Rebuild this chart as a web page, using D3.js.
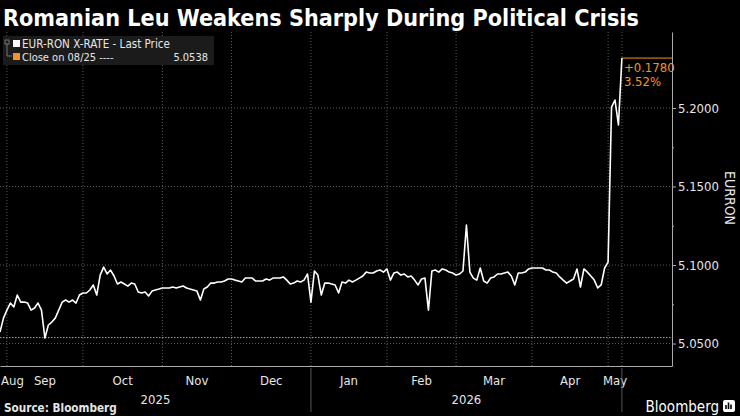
<!DOCTYPE html>
<html>
<head>
<meta charset="utf-8">
<script src="https://cdn.jsdelivr.net/npm/d3@7"></script>
<style>
  body { margin: 0; background: #000; }
  svg { display: block; }
  text { font-family: "DejaVu Sans Condensed", "DejaVu Sans", sans-serif; }
</style>
</head>
<body>
<div id="chart"></div>
<script>
// Donnees
const title = "Romanian Leu Weakens Sharply During Political Crisis";
const seriesName = "EUR-RON X-RATE - Last Price";
const closeLabel = "Close on 08/25 ----";
const closeValue = 5.0538;
const startDate = "2025-08-28"; // premier jour ouvre affiche
// un cours par jour ouvre a partir de startDate
const eurRon = [
  5.0573,5.0662,5.0713,5.0758,5.0733,5.0809,5.0764,5.0764,5.0758,5.0713,
  5.0726,5.0758,5.0713,5.0535,5.0618,5.0637,5.0662,5.0713,5.0764,5.0777,
  5.0764,5.0777,5.0758,5.0809,5.0822,5.0822,5.0841,5.0873,5.0809,5.0936,
  5.0987,5.0943,5.0968,5.0930,5.0879,5.0892,5.0879,5.0866,5.0885,5.0879,
  5.0828,5.0822,5.0828,5.0803,5.0834,5.0841,5.0847,5.0854,5.0854,5.0854,
  5.0860,5.0854,5.0860,5.0866,5.0854,5.0847,5.0841,5.0834,5.0777,5.0847,
  5.0860,5.0885,5.0885,5.0892,5.0892,5.0898,5.0911,5.0911,5.0904,5.0898,
  5.0892,5.0917,5.0917,5.0917,5.0898,5.0898,5.0898,5.0911,5.0904,5.0917,
  5.0917,5.0917,5.0924,5.0904,5.0879,5.0885,5.0898,5.0892,5.0904,5.0943,
  5.0764,5.0962,5.0936,5.0809,5.0885,5.0885,5.0879,5.0873,5.0822,5.0892,
  5.0885,5.0904,5.0892,5.0904,5.0917,5.0930,5.0955,5.0949,5.0949,5.0962,
  5.0968,5.0955,5.0975,5.0904,5.0949,5.0955,5.0936,5.0943,5.0924,5.0930,
  5.0904,5.0873,5.0911,5.0917,5.0713,5.0962,5.0968,5.0955,5.0975,5.0968,
  5.0955,5.0949,5.0936,5.0943,5.0962,5.1255,5.0955,5.0917,5.0904,5.0981,
  5.0898,5.0885,5.0917,5.0924,5.0943,5.0943,5.0949,5.0955,5.0930,5.0873,
  5.0949,5.0949,5.0955,5.0975,5.0981,5.0981,5.0981,5.0981,5.0968,5.0968,
  5.0955,5.0949,5.0924,5.0904,5.0885,5.0898,5.0911,5.0975,5.0860,5.0975,
  5.0955,5.0930,5.0904,5.0854,5.0873,5.0981,5.1019,5.2006,5.2051,5.1892,
  5.2318
];
const yDomain = [5.0357, 5.2484];
const yTicks = [5.05, 5.10, 5.15, 5.20];
const yMinorTicks = [5.075, 5.125, 5.175, 5.225];
const yAxisLabel = "EURRON";
const monthLabels = ["Aug", "Sep", "Oct", "Nov", "Dec", "Jan", "Feb", "Mar", "Apr", "May"];
const monthStarts = ["2025-08-01", "2025-09-01", "2025-10-01", "2025-11-01", "2025-12-01",
                     "2026-01-01", "2026-02-01", "2026-03-01", "2026-04-01", "2026-05-01"];
const yearLabels = ["2025", "2026"];
const yearStarts = ["2025-01-01", "2026-01-01"];

// Dimensions
const width = 740, height = 416;
const plot = {left: 0, top: 32, right: 672, bottom: 366};
const xPadDays = 14.5;
const orange = "#f39325";

const svg = d3.select("#chart")
    .append("svg")
    .attr("width", width)
    .attr("height", height)
    .style("background", "#000");

// position en jours ouvres depuis startDate
const parse = d3.timeParse("%Y-%m-%d");
const start = parse(startDate);
function tradingPos(str) {
    const d = parse(str);
    let n = 0;
    for (let t = new Date(start); t < d; t.setDate(t.getDate() + 1)) {
        const wd = t.getDay();
        if (wd !== 0 && wd !== 6) n++;
    }
    return n;
}

const lastIdx = eurRon.length - 1;
const x = d3.scaleLinear()
    .domain([0, lastIdx + xPadDays])
    .range([plot.left, plot.right]);
const y = d3.scaleLinear()
    .domain(yDomain)
    .range([plot.bottom, plot.top]);

// Titre
svg.append("text")
    .attr("x", 3).attr("y", 26)
    .attr("fill", "#fff")
    .attr("font-weight", "bold")
    .attr("font-size", 22)
    .text(title)
    .call(fitWidth, 636);

// Grille
const monthPos = monthStarts.map(tradingPos);
svg.append("g")
    .selectAll("line")
    .data(yTicks)
    .join("line")
    .attr("x1", plot.left).attr("x2", plot.right)
    .attr("y1", d => y(d)).attr("y2", d => y(d))
    .attr("stroke", "#5a5a5a")
    .attr("stroke-dasharray", "1,2");
svg.append("g")
    .selectAll("line")
    .data(monthPos.slice(1).concat([lastIdx]))
    .join("line")
    .attr("x1", d => x(d)).attr("x2", d => x(d))
    .attr("y1", plot.top).attr("y2", plot.bottom)
    .attr("stroke", "#5a5a5a")
    .attr("stroke-dasharray", "1,2");

// Ligne de cloture
svg.append("line")
    .attr("x1", plot.left).attr("x2", plot.right)
    .attr("y1", y(closeValue)).attr("y2", y(closeValue))
    .attr("stroke", orange)
    .attr("stroke-width", 1)
    .attr("stroke-dasharray", "1.5,1.5");

// Courbe
svg.append("path")
    .datum(eurRon)
    .attr("fill", "none")
    .attr("stroke", "#fff")
    .attr("stroke-width", 1.6)
    .attr("stroke-linejoin", "round")
    .attr("d", d3.line()
        .x((d, i) => x(i))
        .y(d => y(d)));

// Annotation variation
const last = eurRon[lastIdx];
const change = last - closeValue;
svg.append("line")
    .attr("x1", x(lastIdx)).attr("x2", plot.right)
    .attr("y1", y(last)).attr("y2", y(last))
    .attr("stroke", orange);
svg.append("text")
    .attr("x", x(lastIdx) + 2).attr("y", y(last) + 14)
    .attr("fill", orange).attr("font-size", 13)
    .text((change >= 0 ? "+" : "") + change.toFixed(4));
svg.append("text")
    .attr("x", x(lastIdx) + 2).attr("y", y(last) + 28)
    .attr("fill", orange).attr("font-size", 13)
    .text((change / closeValue * 100).toFixed(2) + "%");

// Axe Y a droite
const yAxis = svg.append("g")
    .attr("transform", `translate(${plot.right},0)`)
    .call(d3.axisRight(y).tickValues(yTicks).tickFormat(d3.format(".4f")).tickSize(4).tickSizeOuter(0));
yAxis.select(".domain").attr("stroke", "#aaa");
yAxis.selectAll(".tick line").attr("stroke", "#aaa");
yAxis.selectAll(".tick text")
    .attr("fill", "#e6e6e6")
    .attr("font-size", 13)
    .attr("font-family", null)
    .attr("x", 6);
const yMinor = svg.append("g")
    .attr("transform", `translate(${plot.right},0)`)
    .call(d3.axisRight(y).tickValues(yMinorTicks).tickFormat("").tickSize(2).tickSizeOuter(0));
yMinor.select(".domain").remove();
yMinor.selectAll(".tick line").attr("stroke", "#aaa");

svg.append("text")
    .attr("transform", `translate(725,${(plot.top + plot.bottom) / 2 - 1}) rotate(90)`)
    .attr("text-anchor", "middle")
    .attr("fill", "#e6e6e6")
    .attr("font-size", 14)
    .text(yAxisLabel);

// Axe X
const xAxis = svg.append("g")
    .attr("transform", `translate(0,${plot.bottom})`)
    .call(d3.axisBottom(x).tickValues([]).tickSizeOuter(0));
xAxis.select(".domain").attr("stroke", "#aaa");

const monthEnds = monthPos.slice(1).concat([lastIdx]);
svg.append("g")
    .selectAll("text")
    .data(monthLabels)
    .join("text")
    .attr("y", 385)
    .attr("fill", "#e6e6e6")
    .attr("font-size", 13)
    .attr("text-anchor", "middle")
    .text(d => d)
    .attr("x", function(d, i) {
        const c = (x(monthPos[i]) + x(monthEnds[i])) / 2;
        const half = this.getComputedTextLength() / 2;
        return Math.max(c, half + 1);
    });

const yearPos = yearStarts.map(tradingPos);
const yearEnds = yearPos.slice(1).concat([lastIdx]);
svg.append("g")
    .selectAll("text")
    .data(yearLabels)
    .join("text")
    .attr("x", (d, i) => (x(yearPos[i]) + x(yearEnds[i])) / 2)
    .attr("y", 404)
    .attr("fill", "#e6e6e6")
    .attr("font-size", 13)
    .attr("text-anchor", "middle")
    .text(d => d);
svg.append("g")
    .selectAll("line")
    .data(yearPos.slice(1).concat([lastIdx]))
    .join("line")
    .attr("x1", d => x(d)).attr("x2", d => x(d))
    .attr("y1", plot.bottom + 2).attr("y2", 412)
    .attr("stroke", "#555");

// Legende
const legend = svg.append("g");
legend.append("rect")
    .attr("x", 3).attr("y", 36).attr("width", 211).attr("height", 29)
    .attr("fill", "#1b1b1b");
legend.append("rect")
    .attr("x", 5).attr("y", 40).attr("width", 4).attr("height", 4)
    .attr("fill", "none").attr("stroke", "#888").attr("stroke-width", 0.8);
legend.append("path")
    .attr("d", "M7,44V56H12")
    .attr("fill", "none").attr("stroke", "#888").attr("stroke-width", 0.8);
legend.append("rect")
    .attr("x", 13).attr("y", 40).attr("width", 7).attr("height", 7)
    .attr("fill", "#fff");
legend.append("rect")
    .attr("x", 13).attr("y", 53).attr("width", 7).attr("height", 7)
    .attr("fill", orange);
legend.append("text")
    .attr("x", 22).attr("y", 48)
    .attr("fill", "#e6e6e6").attr("font-size", 11)
    .text(seriesName)
    .call(fitWidth, 148);
legend.append("text")
    .attr("x", 22).attr("y", 61)
    .attr("fill", "#e6e6e6").attr("font-size", 11)
    .text(closeLabel);
legend.append("text")
    .attr("x", 208).attr("y", 61)
    .attr("text-anchor", "end")
    .attr("fill", "#e6e6e6").attr("font-size", 11)
    .text(closeValue.toFixed(4));

// Source et logo
svg.append("text")
    .attr("x", 4).attr("y", 412)
    .attr("fill", "#e6e6e6")
    .attr("font-weight", "bold")
    .attr("font-size", 11)
    .text("Source: Bloomberg")
    .call(fitWidth, 113);
svg.append("text")
    .attr("x", 719).attr("y", 412)
    .attr("text-anchor", "end")
    .attr("fill", "#fff")
    .attr("font-size", 15)
    .attr("font-family", "Roboto, sans-serif")
    .attr("font-weight", 500)
    .text("Bloomberg");
svg.append("rect")
    .attr("x", 723).attr("y", 400).attr("width", 12).attr("height", 12).attr("rx", 2)
    .attr("fill", "#fff");
svg.append("path")
    .attr("d", "M726,409V405M728.5,409V402.5M731,409V404.5")
    .attr("stroke", "#000").attr("stroke-width", 1.6);

// ajuster la taille de police a une largeur donnee
function fitWidth(sel, w) {
    const l = sel.node().getComputedTextLength();
    const fs = parseFloat(sel.attr("font-size"));
    if (l > 0) sel.attr("font-size", fs * w / l);
}
</script>
</body>
</html>
